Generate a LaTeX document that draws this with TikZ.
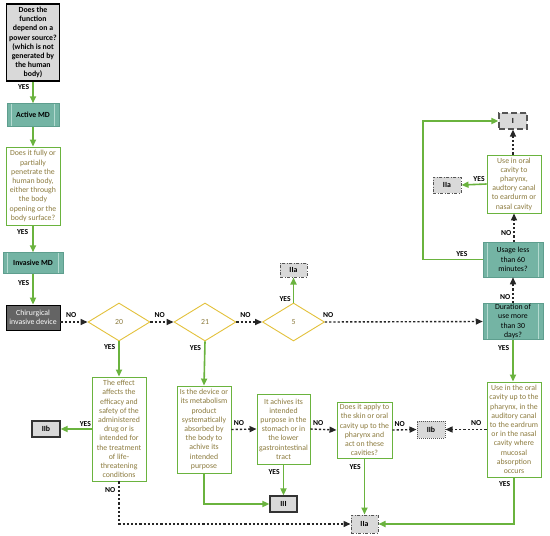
\documentclass[tikz,border=0pt]{standalone}
\usepackage{fontspec}
\setmainfont{Carlito}
\usetikzlibrary{shapes.geometric,arrows.meta}
\definecolor{lgreen}{HTML}{6AB33E}
\definecolor{qtext}{HTML}{8C7B3E}
\definecolor{goldc}{HTML}{E3C13B}
\definecolor{tealc}{HTML}{74B4A4}
\definecolor{tealb}{HTML}{5E9E8E}
\definecolor{tealin}{HTML}{B4DAD0}
\definecolor{resg}{HTML}{D9D9D9}
\definecolor{darkg}{HTML}{646464}
\definecolor{dashg}{HTML}{555555}
\begin{document}
\begin{tikzpicture}[x=1pt,y=-1pt,
  txt/.style={font=\fontsize{7.8}{9.2}\selectfont},
  qbox/.style={txt,draw=lgreen,line width=0.9pt,fill=white,text=qtext,align=center,inner sep=1pt},
  tealbox/.style={txt,draw=tealb,line width=0.5pt,fill=tealc,align=center,inner sep=1pt,
    path picture={
      \draw[tealin,line width=0.7pt]
        ([xshift=4.5pt]path picture bounding box.north west) -- ([xshift=4.5pt]path picture bounding box.south west)
        ([xshift=-4.5pt]path picture bounding box.north east) -- ([xshift=-4.5pt]path picture bounding box.south east);}},
  dia/.style={diamond,draw=goldc,line width=0.9pt,fill=white,text=qtext,txt,inner sep=0pt,
    minimum width=62pt,minimum height=38pt},
  res/.style={txt,font=\fontsize{7.8}{9.2}\selectfont\bfseries,fill=resg,align=center,inner sep=0pt},
  resdash/.style={res,draw=dashg,line width=1pt,dash pattern=on 3pt off 1.5pt on 1pt off 1.5pt},
  reslong/.style={res,draw=dashg,line width=1.2pt,dash pattern=on 6pt off 3pt},
  resdot/.style={res,draw=dashg,line width=1pt,dash pattern=on 1pt off 1pt},
  ressolid/.style={res,draw=black!80,line width=1.2pt},
  yes/.style={-{Triangle[length=7pt,width=6pt]},draw=lgreen,line width=1.6pt},
  yesline/.style={draw=lgreen,line width=1.6pt},
  no/.style={-{Triangle[length=7pt,width=6pt]},draw=black!85,line width=1.4pt,dash pattern=on 2.2pt off 2pt},
  lab/.style={font=\fontsize{7.6}{8}\selectfont\bfseries,text=black,inner sep=1pt}
]
\useasboundingbox (0,0) rectangle (550,536);
\fill[white] (0,0) rectangle (550,536);

% left column
\node[txt,font=\fontsize{7.8}{9.2}\selectfont\bfseries,draw=black,line width=1.6pt,fill=resg,align=center,
  minimum width=53pt,minimum height=77pt,inner sep=0pt] (A) at (33,42.5)
  {Does the\\function\\depend on a\\power source?\\(which is not\\generated by\\the human\\body)};
\node[tealbox,font=\fontsize{7.8}{9.2}\selectfont\bfseries,minimum width=52pt,minimum height=23pt] (active) at (33,115) {Active MD};
\node[qbox,minimum width=54pt,minimum height=78pt] (q1) at (33,186)
  {Does it fully or\\partially\\penetrate the\\human body,\\either through\\the body\\opening or the\\body surface?};
\node[tealbox,font=\fontsize{7.8}{9.2}\selectfont\bfseries,minimum width=60pt,minimum height=21pt] (invasive) at (33,263) {Invasive MD};
\node[txt,draw=black,line width=0.8pt,fill=darkg,text=white,align=center,minimum width=54pt,minimum height=25pt,inner sep=0pt] (chir) at (33,317.5)
  {Chirurgical\\invasive device};

% diamonds
\node[dia] (d20) at (119,322) {20};
\node[dia] (d21) at (205,322) {21};
\node[dia] (d5) at (293.5,322) {5};
\node[resdash,minimum width=27pt,minimum height=14pt] (iia1) at (293.5,270) {IIa};

% right column
\node[tealbox,minimum width=60pt,minimum height=35pt] (duration) at (513,321.5) {Duration of\\use more\\than 30\\days?};
\node[tealbox,minimum width=60pt,minimum height=35pt] (usage) at (513,259.5) {Usage less\\than 60\\minutes?};
\node[qbox,minimum width=54pt,minimum height=58pt] (qoral) at (514,184)
  {Use in oral\\cavity to\\pharynx,\\audtory canal\\to eardurm or\\nasal cavity};
\node[resdash,minimum width=28pt,minimum height=16pt] (iia2) at (447,185) {IIa};
\node[reslong,minimum width=28pt,minimum height=16pt] (I) at (513,121) {I};

% bottom row
\node[qbox,minimum width=54pt,minimum height=104pt] (qeff) at (119,429)
  {The effect\\affects the\\efficacy and\\safety of the\\administered\\drug or is\\intended for\\the treatment\\of life-\\threatening\\conditions};
\node[ressolid,minimum width=28pt,minimum height=16pt] (iib1) at (46,429) {IIb};
\node[qbox,minimum width=54pt,minimum height=87pt] (qmet) at (204,429.5)
  {Is the device or\\its metabolism\\product\\systematically\\absorbed by\\the body to\\achive its\\intended\\purpose};
\node[qbox,minimum width=53pt,minimum height=70pt] (qsto) at (283.5,429)
  {It achives its\\intended\\purpose in the\\stomach or in\\the lower\\gastrointestinal\\tract};
\node[ressolid,minimum width=27pt,minimum height=16pt] (iii) at (283.5,504) {III};
\node[qbox,minimum width=55pt,minimum height=56pt] (qskin) at (364.5,430)
  {Does it apply to\\the skin or oral\\cavity up to the\\pharynx and\\act on these\\cavities?};
\node[resdash,minimum width=27pt,minimum height=18pt] (iia3) at (364.5,524) {IIa};
\node[resdot,minimum width=28pt,minimum height=17pt] (iib2) at (431,429.5) {IIb};
\node[qbox,minimum width=54pt,minimum height=95pt] (quse) at (514,429.5)
  {Use in the oral\\cavity up to the\\pharynx, in the\\auditory canal\\to the eardrum\\or in the nasal\\cavity where\\mucosal\\absorption\\occurs};

% connectors left column
\draw[yes] (A.south) -- node[lab,pos=0.25,left=2pt] {YES} (active.north);
\draw[yes] (active.south) -- (q1.north);
\draw[yes] (q1.south) -- node[lab,pos=0.25,left=3pt] {YES} (invasive.north);
\draw[yes] (invasive.south) -- node[lab,pos=0.3,left=2pt] {YES} (chir.north);
\draw[no] (chir.east |- d20.west) -- node[lab,pos=0.4,above=3pt] {NO} (d20.west);

% diamonds
\draw[no] (d20.east) -- node[lab,pos=0.4,above=3pt] {NO} (d21.west);
\draw[no] (d21.east) -- node[lab,pos=0.35,above=3pt] {NO} (d5.west);
\draw[yes] (d5.north) -- node[lab,pos=0.15,left=1pt] {YES} (iia1.south);
\draw[no] (d5.east) -- node[lab,pos=0.02,above=3pt] {NO} (duration.west);

% right column
\draw[no] (duration.north) -- node[lab,pos=0.25,left=1pt] {NO} (usage.south);
\draw[yes] (usage.west) -- node[lab,pos=0.35,above=1pt] {YES} (423,259.5) |- (I.west);
\draw[no] (usage.north -| qoral.south) -- node[lab,pos=0.3,left=1pt] {NO} (qoral.south);
\draw[no] (qoral.north -| I.south) -- (I.south);
\draw[yes] (qoral.west) -- node[lab,pos=0.3,above=1pt] {YES} (iia2.east);
\draw[yes] (duration.south) -- node[lab,pos=0.2,left=2pt] {YES} (quse.north -| duration.south);

% bottom row
\draw[yes] (d20.south) -- node[lab,pos=0.15,left=2pt] {YES} (qeff.north);
\draw[yes] (qeff.west) -- node[lab,pos=0.2,above=1pt] {YES} (iib1.east);
\draw[no] (qeff.south) -- node[lab,pos=0.2,left=2pt] {NO} (qeff.south |- iia3.west) -- (iia3.west);
\draw[yes] (d21.south) -- node[lab,pos=0.15,left=2pt] {YES} (qmet.north);
\draw[yes] (qmet.south) |- (iii.west);
\draw[no] (qmet.east) -- node[lab,pos=0.3,above=2pt] {NO} (qsto.west);
\draw[yes] (qsto.south) -- node[lab,pos=0.25,left=2pt] {YES} (iii.north);
\draw[no] (qsto.east) -- node[lab,pos=0.3,above=2pt] {NO} (qskin.west);
\draw[yes] (qskin.south) -- node[lab,pos=0.15,left=2pt] {YES} (iia3.north);
\draw[no] (qskin.east) -- node[lab,pos=0.3,above=2pt] {NO} (iib2.west);
\draw[no] (quse.west |- iib2.east) -- node[lab,pos=0.25,above=2pt] {NO} (iib2.east);
\draw[yes] (quse.south) -- node[lab,pos=0.15,left=2pt] {YES} (quse.south |- iia3.east) -- (iia3.east);
\end{tikzpicture}
\end{document}
